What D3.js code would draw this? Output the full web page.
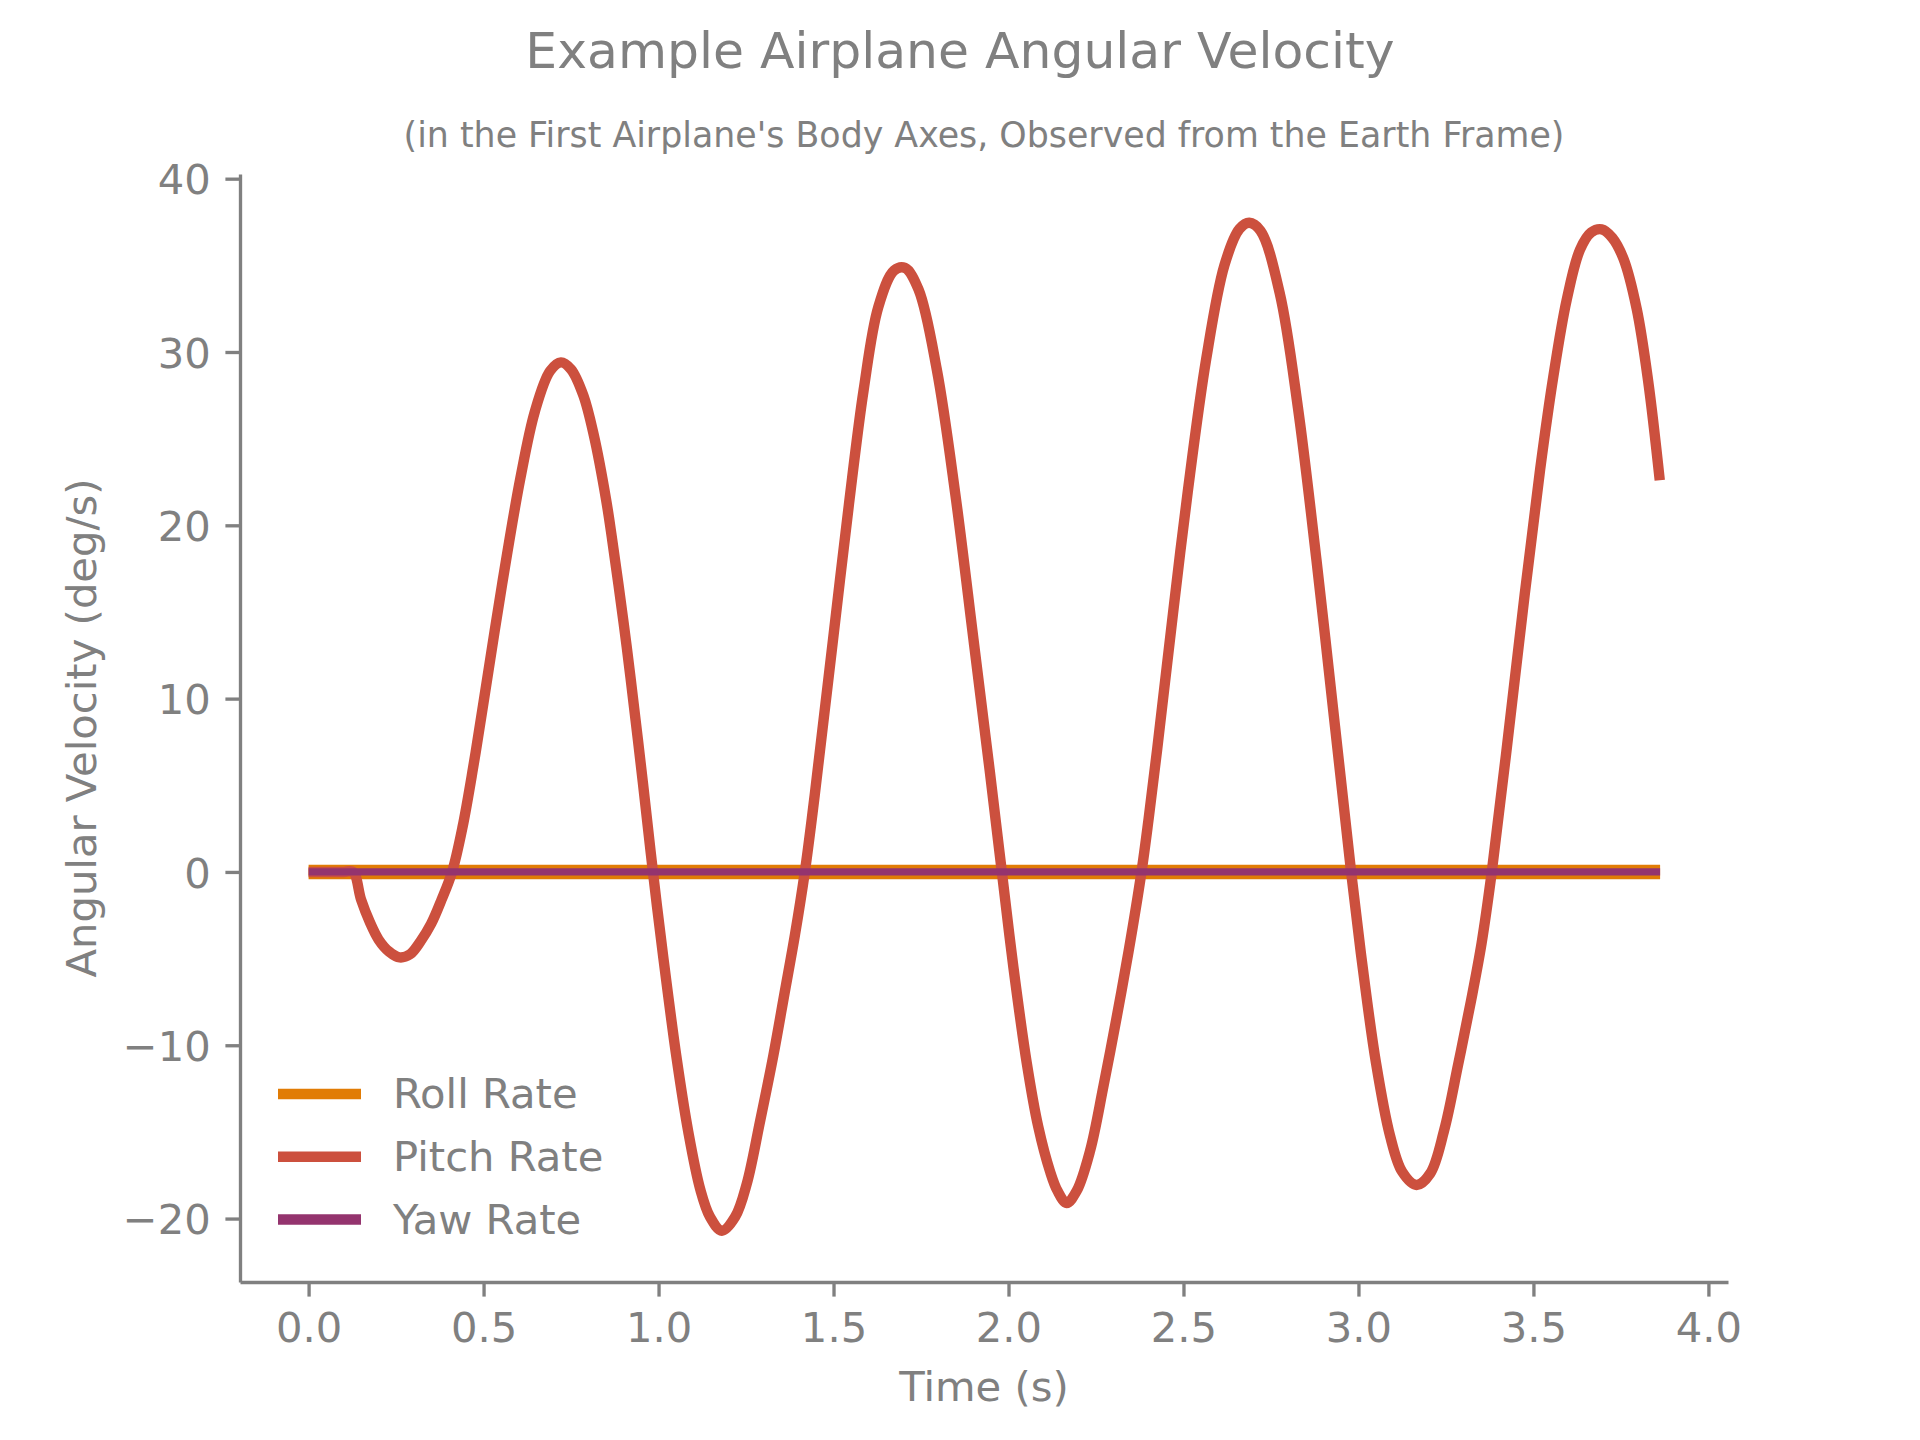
<!DOCTYPE html>
<html>
<head>
<meta charset="utf-8">
<script src="https://cdn.jsdelivr.net/npm/d3@7"></script>
<style>
  html, body { margin: 0; padding: 0; background: #ffffff; }
  svg { display: block; }
  text { font-family: "DejaVu Sans", sans-serif; fill: #808080; }
</style>
</head>
<body>
<script>
// ---- data ----
const titleText = "Example Airplane Angular Velocity";
const subtitleText = "(in the First Airplane's Body Axes, Observed from the Earth Frame)";
const xLabelText = "Time (s)";
const yLabelText = "Angular Velocity (deg/s)";

const seriesNames = ["Roll Rate", "Pitch Rate", "Yaw Rate"];
const seriesColors = ["#e17c05", "#cc503e", "#94346e"];

const flatTime = [0, 3.862];
const rollRate = [0, 0];
const yawRate = [0, 0];

const pitchTime = [0, 0.1, 0.127, 0.15, 0.175, 0.2, 0.23, 0.26, 0.29, 0.32, 0.35, 0.38, 0.41, 0.44, 0.47, 0.5, 0.553, 0.605, 0.647, 0.69, 0.721, 0.75, 0.785, 0.815, 0.85, 0.868, 0.9, 0.92, 0.955, 0.984, 1.014, 1.052, 1.085, 1.119, 1.147, 1.181, 1.219, 1.252, 1.29, 1.328, 1.36, 1.39, 1.418, 1.44, 1.456, 1.498, 1.544, 1.586, 1.628, 1.673, 1.704, 1.743, 1.795, 1.848, 1.9, 1.946, 1.981, 2.014, 2.052, 2.085, 2.119, 2.14, 2.166, 2.195, 2.233, 2.271, 2.309, 2.343, 2.38, 2.4, 2.425, 2.47, 2.512, 2.565, 2.617, 2.66, 2.688, 2.72, 2.775, 2.827, 2.88, 2.933, 2.979, 3.014, 3.05, 3.09, 3.125, 3.166, 3.205, 3.245, 3.285, 3.322, 3.352, 3.381, 3.423, 3.475, 3.519, 3.557, 3.595, 3.633, 3.665, 3.695, 3.725, 3.757, 3.795, 3.828, 3.861];
const pitchRate = [0, 0, 0, -1.6, -2.9, -3.9, -4.6, -4.93, -4.75, -4.0, -3.0, -1.6, 0, 2.6, 6.0, 9.8, 16.6, 22.7, 26.6, 28.9, 29.4, 29.0, 27.5, 25.2, 21.5, 19.1, 14.4, 11.2, 5.2, 0, -5.0, -10.8, -15.0, -18.3, -19.9, -20.7, -19.9, -18.0, -14.4, -10.6, -7.0, -3.6, 0, 3.4, 6.1, 13.3, 21.2, 27.8, 32.6, 34.7, 34.85, 33.6, 29.0, 21.8, 13.4, 5.9, 0, -5.5, -11.0, -14.7, -17.3, -18.4, -19.1, -18.4, -16.1, -12.4, -8.4, -4.6, 0, 3.0, 7.1, 14.9, 21.9, 29.6, 35.0, 37.1, 37.46, 37.0, 33.4, 26.8, 18.0, 8.4, 0, -5.8, -11.0, -15.2, -17.3, -18.06, -17.4, -14.9, -11.1, -7.4, -4.1, 0, 7.0, 16.0, 23.2, 28.6, 33.0, 35.9, 36.9, 37.08, 36.6, 35.4, 32.5, 28.3, 22.6];

const xTicks = [0, 0.5, 1, 1.5, 2, 2.5, 3, 3.5, 4];
const xTickLabels = ["0.0", "0.5", "1.0", "1.5", "2.0", "2.5", "3.0", "3.5", "4.0"];
const yTicks = [-20, -10, 0, 10, 20, 30, 40];
const yTickLabels = ["\u221220", "\u221210", "0", "10", "20", "30", "40"];

// ---- layout ----
const W = 1920, H = 1440;
const plotL = 240, plotR = 1728, plotT = 174, plotB = 1282;
const gray = "#808080";
const tickFont = 41.7;

const svg = d3.select("body").append("svg").attr("width", W).attr("height", H);

const x = d3.scaleLinear().domain([-0.196, 4.056]).range([plotL, plotR]);
const y = d3.scaleLinear().domain([-23.66, 40.27]).range([plotB, plotT]);

// titles
svg.append("text").attr("x", 960).attr("y", 67.5).attr("text-anchor", "middle")
  .style("font-size", "50.4px").text(titleText);
svg.append("text").attr("x", (plotL + plotR) / 2).attr("y", 146.5).attr("text-anchor", "middle")
  .style("font-size", "34.8px").text(subtitleText);

// axes
const xAxis = d3.axisBottom(x).tickValues(xTicks).tickFormat((d, i) => xTickLabels[i])
  .tickSizeInner(14.6).tickSizeOuter(0).tickPadding(14.6);
const gx = svg.append("g").attr("transform", `translate(0,${plotB})`).call(xAxis);
gx.select(".domain").attr("stroke", gray).attr("stroke-width", 3.33);
gx.selectAll(".tick line").attr("stroke", gray).attr("stroke-width", 3.33);
gx.selectAll(".tick text").attr("fill", gray).style("font-size", tickFont + "px")
  .style("font-family", "DejaVu Sans").attr("dy", null).attr("y", 59.6);

const yAxis = d3.axisLeft(y).tickValues(yTicks).tickFormat((d, i) => yTickLabels[i])
  .tickSizeInner(14.6).tickSizeOuter(0).tickPadding(14.6);
const gy = svg.append("g").attr("transform", `translate(${plotL},0)`).call(yAxis);
gy.select(".domain").attr("stroke", gray).attr("stroke-width", 3.33);
gy.selectAll(".tick line").attr("stroke", gray).attr("stroke-width", 3.33);
gy.selectAll(".tick text").attr("fill", gray).style("font-size", tickFont + "px")
  .style("font-family", "DejaVu Sans").attr("dy", null).attr("y", 15.2);

// axis labels
svg.append("text").attr("x", (plotL + plotR) / 2).attr("y", 1401).attr("text-anchor", "middle")
  .style("font-size", tickFont + "px").text(xLabelText);
svg.append("text").attr("transform", `translate(95.5,${(plotT + plotB) / 2}) rotate(-90)`)
  .attr("text-anchor", "middle").style("font-size", tickFont + "px").text(yLabelText);

// lines
const lineGen = d3.line().x(d => x(d[0])).y(d => y(d[1]));
const pitchGen = d3.line().x(d => x(d[0])).y(d => y(d[1])).curve(d3.curveCatmullRom.alpha(0.5));

const rollData = flatTime.map((t, i) => [t, rollRate[i]]);
const yawData = flatTime.map((t, i) => [t, yawRate[i]]);
const pitchData = pitchTime.map((t, i) => [t, pitchRate[i]]);

svg.append("path").datum(rollData).attr("d", lineGen).attr("fill", "none")
  .attr("stroke", seriesColors[0]).attr("stroke-width", 14.6);
svg.append("path").datum(pitchData).attr("d", pitchGen).attr("fill", "none")
  .attr("stroke", seriesColors[1]).attr("stroke-width", 10.4).attr("stroke-linejoin", "round");
svg.append("path").datum(yawData).attr("d", lineGen).attr("fill", "none")
  .attr("stroke", seriesColors[2]).attr("stroke-width", 7.3);

// legend
const legendY = [1094, 1156.7, 1219.5];
const lg = svg.append("g");
seriesNames.forEach((name, i) => {
  lg.append("line").attr("x1", 278).attr("x2", 361).attr("y1", legendY[i]).attr("y2", legendY[i])
    .attr("stroke", seriesColors[i]).attr("stroke-width", 10.4);
  lg.append("text").attr("x", 393).attr("y", legendY[i] + 14.2)
    .style("font-size", tickFont + "px").text(name);
});
</script>
</body>
</html>
